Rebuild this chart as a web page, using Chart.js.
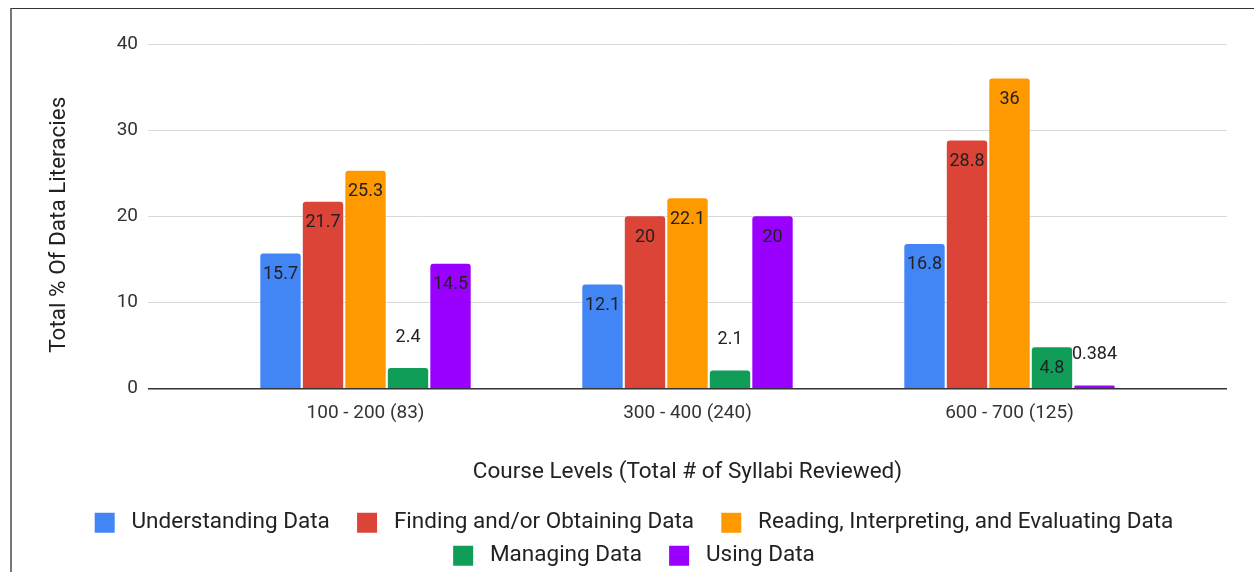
<!DOCTYPE html>
<html>
<head>
<meta charset="utf-8">
<script src="https://cdn.jsdelivr.net/npm/chart.js@4"></script>
<style>
  html, body { margin: 0; padding: 0; background: #fff; overflow: hidden; width: 1254px; height: 572px; }
  #wrap { position: absolute; left: 0; top: 0; }
  #frame { position: absolute; left: 10px; top: 8px; width: 1400px; height: 700px;
           border-left: 2px solid #777; border-top: 1.5px solid #333; pointer-events: none; }
</style>
</head>
<body>
<div id="frame"></div>
<div id="wrap"><canvas id="c" width="1254" height="577"></canvas></div>
<script>
const categories = ["100 - 200 (83)", "300 - 400 (240)", "600 - 700 (125)"];
const seriesNames = ["Understanding Data", "Finding and/or Obtaining Data",
  "Reading, Interpreting, and Evaluating Data", "Managing Data", "Using Data"];
const understandingData = [15.7, 12.1, 16.8];
const findingData = [21.7, 20, 28.8];
const readingData = [25.3, 22.1, 36];
const managingData = [2.4, 2.1, 4.8];
const usingData = [14.5, 20, 0.384];
const yTicks = [0, 10, 20, 30, 40];
const colors = ["#4285F4", "#DB4437", "#FF9900", "#0F9D58", "#9900FF"];

const seriesValues = [understandingData, findingData, readingData, managingData, usingData];
const FONT = "Roboto";

const datasets = seriesValues.map((vals, s) => ({
  label: seriesNames[s],
  data: vals.map((v, i) => ({ x: i, y: v })),
  backgroundColor: colors[s],
  borderWidth: 0,
  borderRadius: { topLeft: 3, topRight: 3, bottomLeft: 0, bottomRight: 0 },
  borderSkipped: 'bottom',
  categoryPercentage: 0.66,
  barPercentage: 0.95
}));

const valueLabels = {
  id: 'valueLabels',
  afterDatasetsDraw(chart) {
    const ctx = chart.ctx;
    ctx.save();
    ctx.font = "18px " + FONT;
    ctx.fillStyle = "#222";
    ctx.textAlign = "center";
    ctx.textBaseline = "middle";
    chart.data.datasets.forEach((ds, di) => {
      const meta = chart.getDatasetMeta(di);
      meta.data.forEach((bar, i) => {
        const v = seriesValues[di][i];
        const h = bar.base - bar.y;
        const y = h > 35 ? bar.y + 21 : bar.y - 31;
        ctx.fillText(String(v), bar.x, y);
      });
    });
    ctx.restore();
  }
};

const trailing = [true, true, false, true, false];

new Chart(document.getElementById('c'), {
  type: 'bar',
  data: { datasets },
  options: {
    responsive: false,
    animation: false,
    layout: { padding: { left: 41, right: 27, top: 44, bottom: 0 } },
    scales: {
      x: {
        type: 'linear',
        min: -0.6755,
        max: 2.6755,
        offset: false,
        grid: { display: false, drawTicks: false, tickLength: 0, offset: false },
        border: { display: false },
        afterBuildTicks(scale) { scale.ticks = categories.map((c, i) => ({ value: i })); },
        ticks: {
          padding: 13,
          font: { family: FONT, size: 19 },
          color: "#333",
          maxRotation: 0,
          autoSkip: false,
          callback: (v) => categories[v]
        },
        title: {
          display: true,
          text: "Course Levels (Total # of Syllabi Reviewed)",
          font: { family: FONT, size: 22.5 },
          color: "#222",
          padding: { top: 21, bottom: 15.5 }
        }
      },
      y: {
        min: 0,
        max: 40,
        afterBuildTicks(scale) { scale.ticks = yTicks.map(v => ({ value: v })); },
        afterFit(scale) { scale.width = 107; },
        grid: {
          drawTicks: false,
          color: (c) => (c.tick && c.tick.value === 0) ? "#333" : "#d9d9d9",
          lineWidth: (c) => (c.tick && c.tick.value === 0) ? 1.5 : 1
        },
        border: { display: false },
        ticks: {
          padding: 10,
          font: { family: FONT, size: 19 },
          color: "#333"
        },
        title: {
          display: true,
          text: "Total % Of Data Literacies   ",
          font: { family: FONT, size: 22.5 },
          color: "#222",
          padding: { top: 4.5, bottom: 0 }
        }
      }
    },
    plugins: {
      legend: {
        position: 'bottom',
        labels: {
          font: { family: FONT, size: 22.5 },
          color: "#222",
          boxWidth: 20,
          boxHeight: 20,
          padding: 10.5,
          generateLabels(chart) {
            const items = Chart.defaults.plugins.legend.labels.generateLabels(chart);
            items.forEach((it, i) => {
              it.text = " " + it.text + (trailing[i] ? "   " : "");
              it.lineWidth = 0;
            });
            return items;
          }
        }
      },
      tooltip: { enabled: false }
    }
  },
  plugins: [valueLabels]
});
</script>
</body>
</html>
